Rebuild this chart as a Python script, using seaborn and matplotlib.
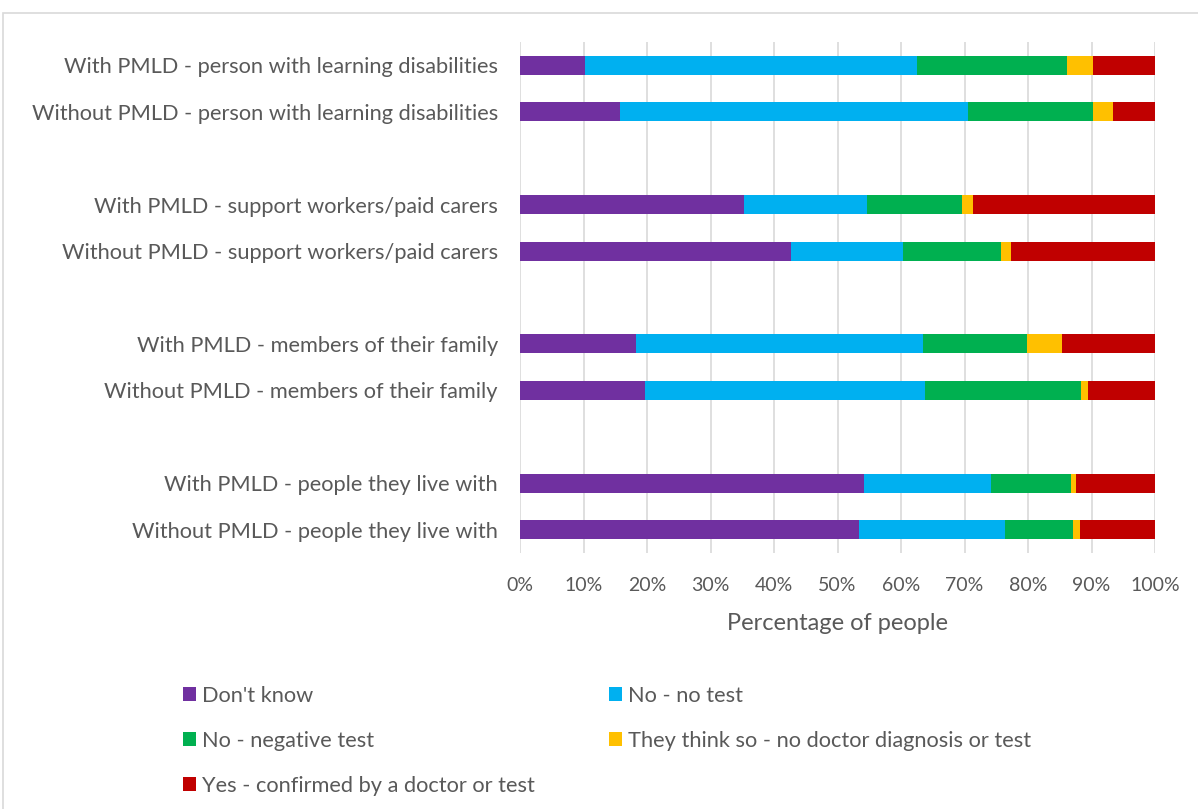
import matplotlib
matplotlib.use("Agg")
import matplotlib.pyplot as plt
from matplotlib.patches import Patch, Rectangle
import numpy as np
import pandas as pd
import seaborn as sns

# Row labels, top to bottom (blank spacer rows between groups)
categories = [
    "With PMLD - person with learning disabilities",
    "Without PMLD - person with learning disabilities",
    " ",
    "With PMLD - support workers/paid carers",
    "Without PMLD - support workers/paid carers",
    "  ",
    "With PMLD - members of their family",
    "Without PMLD - members of their family",
    "   ",
    "With PMLD - people they live with",
    "Without PMLD - people they live with",
]
groups = [c for c in categories if c.strip()]

series = [
    "Don't know",
    "No - no test",
    "No - negative test",
    "They think so - no doctor diagnosis or test",
    "Yes - confirmed by a doctor or test",
]
colors = ["#7030A0", "#00B0F0", "#00B050", "#FFC000", "#C00000"]

dont_know = [10.3, 15.7, 35.3, 42.7, 18.3, 19.7, 54.2, 53.4]
no_test = [52.2, 54.8, 19.4, 17.6, 45.1, 44.1, 20.0, 23.0]
negative_test = [23.6, 19.8, 14.9, 15.5, 16.5, 24.5, 12.6, 10.7]
think_so = [4.2, 3.1, 1.8, 1.6, 5.5, 1.1, 0.7, 1.1]
confirmed = [9.7, 6.6, 28.6, 22.6, 14.6, 10.6, 12.5, 11.8]

tick_values = [0, 10, 20, 30, 40, 50, 60, 70, 80, 90, 100]
tick_labels = [f"{v}%" for v in tick_values]

values = np.array([dont_know, no_test, negative_test, think_so, confirmed])
cum = np.cumsum(values, axis=0)
cum = cum / cum[-1] * 100  # each row is a share of 100%

df = pd.DataFrame({
    "group": np.repeat([groups], len(series), axis=0).ravel(),
    "series": np.repeat(series, len(groups)),
    "end": cum.ravel(),
})

sns.set_style("white")
plt.rcParams["font.family"] = ["Lato", "DejaVu Sans"]
text_color = "#595959"

W, H = 1198, 809
fig = plt.figure(figsize=(W / 100, H / 100), dpi=100)

# Light chart-area border
fig.patches.append(Rectangle((3 / W, -0.05), 1.2, (H - 13) / H + 0.05,
                             transform=fig.transFigure, fill=False,
                             edgecolor="#d9d9d9", linewidth=1.2, zorder=0))

ax = fig.add_axes([520 / W, (H - 553) / H, 635 / W, 511 / H])

# Stacked bars: draw cumulative ends from the last segment backwards
for name, col in reversed(list(zip(series, colors))):
    sub = df[df["series"] == name]
    sns.barplot(data=sub, x="end", y="group", order=categories, color=col,
                saturation=1, width=0.41, errorbar=None, linewidth=0,
                orient="h", ax=ax, zorder=3)

ax.set_xlim(0, 100)
ax.set_ylim(len(categories) - 0.5, -0.5)
ax.set_xticks(tick_values)
ax.set_xticklabels(tick_labels)
ax.grid(axis="x", color="#d9d9d9", linewidth=1.2, zorder=0)
ax.grid(axis="y", visible=False)
ax.set_axisbelow(True)
for s in ax.spines.values():
    s.set_visible(False)
ax.tick_params(axis="both", length=0, labelcolor=text_color)
ax.tick_params(axis="x", pad=17, labelsize=14)
ax.tick_params(axis="y", pad=16, labelsize=15.7)
ax.set_ylabel("")
ax.set_xlabel("Percentage of people", fontsize=17, color=text_color, labelpad=14)

# Legend filled row by row: two entries per row
leg_order = [0, 2, 4, 1, 3]
handles = [Patch(facecolor=colors[i], edgecolor="none") for i in leg_order]
labels = [series[i] for i in leg_order]
fig.legend(handles, labels, loc="upper left",
           bbox_to_anchor=(163 / W, (H - 666) / H), ncol=2, frameon=False,
           fontsize=15.7, labelcolor=text_color, handlelength=0.6,
           handleheight=0.6, handletextpad=0.3, columnspacing=3.37,
           labelspacing=1.15)

fig.savefig("out.png", dpi=100)
